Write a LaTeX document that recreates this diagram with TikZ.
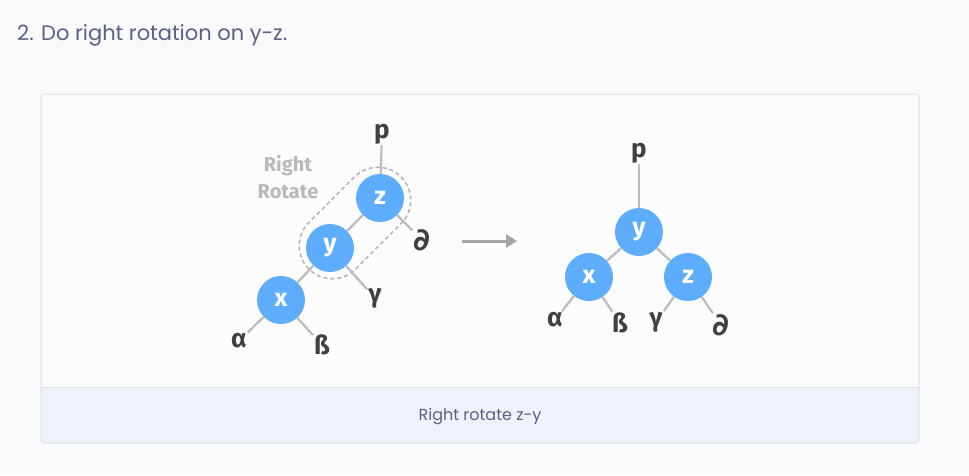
\documentclass[tikz,border=0pt]{standalone}
\usepackage{fontspec}
\setmainfont{Fira Sans}
\newfontfamily\titlefont{Poppins}
\newfontfamily\symfont{DejaVu Sans}
\usetikzlibrary{arrows.meta,positioning,shapes.misc}

\definecolor{pagebg}{HTML}{F8F9FB}
\definecolor{panelbg}{HTML}{FCFCFD}
\definecolor{panelline}{HTML}{DCE0E6}
\definecolor{captionbg}{HTML}{EEF3FB}
\definecolor{titletext}{HTML}{5E5E86}
\definecolor{nodeblue}{HTML}{5EADFD}
\definecolor{edgegray}{HTML}{BBBBBB}
\definecolor{labeldark}{HTML}{3F3F44}
\definecolor{rotgray}{HTML}{B9B9B9}

\newcommand{\partl}{{\symfont\bfseries\fontsize{31}{33}\selectfont\char"2202}}

\tikzset{
  treenode/.style={circle,fill=nodeblue,minimum size=48pt,inner sep=0pt,
    text=white,font=\bfseries\fontsize{25}{28}\selectfont},
  leaf/.style={text=labeldark,inner sep=1pt,
    font=\bfseries\fontsize{26}{29}\selectfont},
  edge/.style={draw=edgegray,line width=2.2pt},
  capsule/.style={draw=gray!60,rounded rectangle,line width=1.5pt,
    dash pattern=on 4pt off 3pt,minimum width=137pt,minimum height=66pt}
}

\begin{document}
\begin{tikzpicture}[x=1pt,y=-1pt]

% page and panel
\fill[pagebg] (0,0) rectangle (969,475);
\useasboundingbox (0,0) rectangle (969,475);
\begin{scope}
  \clip[rounded corners=4pt] (41,94) rectangle (919,443);
  \fill[panelbg] (41,94) rectangle (919,443);
  \fill[captionbg] (41,387) rectangle (919,443);
\end{scope}
\draw[panelline,line width=1pt] (41,387) -- (919,387);
\draw[panelline,line width=1pt,rounded corners=4pt] (41,94) rectangle (919,443);

\node[anchor=base west,text=titletext,inner sep=0pt,
  font=\titlefont\fontsize{21}{25}\selectfont] (title) at (17,40)
  {2. Do right rotation on y-z.};
\node[anchor=base,text=titletext,inner sep=0pt,
  font=\titlefont\fontsize{16}{19}\selectfont] (caption) at (480,420)
  {Right rotate z-y};

% ---------------- LEFT TREE ----------------
\node[capsule,rotate=45] (rot) at (355,223) {};

\node[treenode] (zl) at (380,198) {z};
\node[treenode] (yl) at (330,248) {y};
\node[treenode] (xl) at (281,300) {x};

\node[leaf] (pl) at (382,134) {p};
\node[leaf] (dl) at (422,240) {\partl};
\node[leaf] (gl) at (375,298) {\char"03B3};
\node[leaf] (al) at (239,341) {\char"03B1};
\node[leaf] (bl) at (322,345) {ß};

\draw[edge] (zl) -- (pl);
\draw[edge] (zl) -- (dl);
\draw[edge] (zl) -- (yl);
\draw[edge] (yl) -- (gl);
\draw[edge] (yl) -- (xl);
\draw[edge] (xl) -- (al);
\draw[edge] (xl) -- (bl);

\node[text=rotgray,align=center,inner sep=0pt,
  font=\bfseries\fontsize{20}{27}\selectfont] (rottext) at (288,177)
  {Right\\Rotate};

% ---------------- ARROW ----------------
\coordinate (from) at (462,241);
\coordinate (to) at (517,241);
\draw[draw=gray!70,line width=3pt,-{Triangle[length=11pt,width=13pt]}] (from) -- (to);

% ---------------- RIGHT TREE ----------------
\node[treenode] (yr) at (639,232) {y};
\node[treenode] (xr) at (589,277) {x};
\node[treenode] (zr) at (688,277) {z};

\node[leaf] (pr) at (639,153) {p};
\node[leaf] (ar) at (555,320) {\char"03B1};
\node[leaf] (br) at (620,323) {ß};
\node[leaf] (gr) at (656,322) {\char"03B3};
\node[leaf] (dr) at (721,325) {\partl};

\draw[edge] (yr) -- (pr);
\draw[edge] (yr) -- (xr);
\draw[edge] (yr) -- (zr);
\draw[edge] (xr) -- (ar);
\draw[edge] (xr) -- (br);
\draw[edge] (zr) -- (gr);
\draw[edge] (zr) -- (dr);

\end{tikzpicture}
\end{document}
